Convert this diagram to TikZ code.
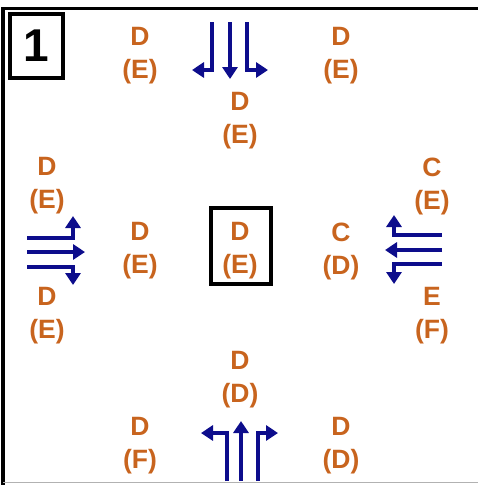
\documentclass[tikz,border=0pt]{standalone}
\usepackage{fontspec}
\setmainfont{Liberation Sans}
\usetikzlibrary{arrows.meta}
\definecolor{LabelOrange}{HTML}{C8641E}
\definecolor{LaneBlue}{HTML}{0D0D8C}
\begin{document}
\begin{tikzpicture}[
x=1pt,y=-1pt,
lbl/.style={text=LabelOrange,font=\bfseries\fontsize{26.5}{33}\selectfont,align=center,inner sep=0pt},
frame/.style={draw,line width=3.5pt,inner sep=0pt},
lane/.style={LaneBlue,line width=4.2pt,-{Triangle[width=15pt,length=12pt]}}
]
\useasboundingbox (0,0) rectangle (478,485);
\draw[line width=3.5pt] (478,8.5) -- (3,8.5) -- (3,485);
\node[frame,minimum width=53pt,minimum height=64pt,font=\bfseries\fontsize{46}{46}\selectfont] (num) at (36.5,46) {1};
\node[frame,minimum width=60pt,minimum height=76pt] (cbox) at (241,246) {};
\node[lbl] (nw) at (140,56) {D\\(E)};
\node[lbl] (ne) at (341,56) {D\\(E)};
\node[lbl] (n) at (240,121) {D\\(E)};
\node[lbl] (wn) at (47,186) {D\\(E)};
\node[lbl] (ws) at (47,316) {D\\(E)};
\node[lbl] (w) at (140,251) {D\\(E)};
\node[lbl] (c) at (240,251) {D\\(E)};
\node[lbl] (e) at (341,251) {C\\(D)};
\node[lbl] (en) at (432,186) {C\\(E)};
\node[lbl] (es) at (432,316) {E\\(F)};
\node[lbl] (s) at (240,380) {D\\(D)};
\node[lbl] (sw) at (140,446) {D\\(F)};
\node[lbl] (se) at (341,446) {D\\(D)};
\draw[lane] (212,22) -- (212,70) -- (192,70);
\draw[lane] (230,22) -- (230,79);
\draw[lane] (247,22) -- (247,70) -- (268,70);
\draw[lane] (27,238) -- (73,238) -- (73,216);
\draw[lane] (27,252) -- (85,252);
\draw[lane] (27,267) -- (73,267) -- (73,285);
\draw[lane] (442,235) -- (394,235) -- (394,215);
\draw[lane] (442,250) -- (385,250);
\draw[lane] (442,264) -- (394,264) -- (394,284);
\draw[lane] (227,481) -- (227,433) -- (201,433);
\draw[lane] (241,481) -- (241,421);
\draw[lane] (258,481) -- (258,433) -- (278,433);
\draw[gray!60,line width=1.5pt] (3,482.5) -- (478,482.5);
\end{tikzpicture}
\end{document}
